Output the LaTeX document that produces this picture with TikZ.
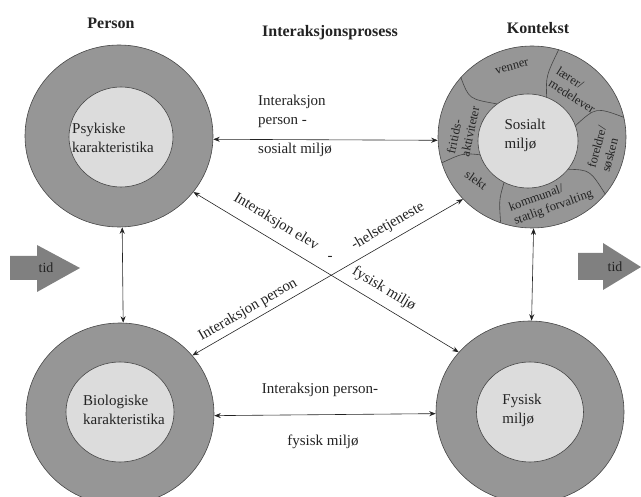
\documentclass[tikz,border=0pt]{standalone}
\usepackage{fontspec}
\setmainfont{Liberation Serif}
\usetikzlibrary{shapes.geometric,arrows.meta}
\definecolor{ringgray}{RGB}{150,150,150}
\definecolor{innergray}{RGB}{220,220,220}
\definecolor{edgegray}{RGB}{70,70,70}
\definecolor{arrowgray}{RGB}{128,128,128}
\definecolor{txt}{RGB}{35,35,35}
\begin{document}
\begin{tikzpicture}[x=1pt,y=-1pt,
  outer/.style={ellipse,draw=edgegray,fill=ringgray,line width=0.6pt,minimum width=188pt,minimum height=182pt,inner sep=0pt},
  inner/.style={ellipse,draw=edgegray,fill=innergray,line width=0.6pt,inner sep=0pt},
  lbl/.style={font=\fontsize{15}{19}\selectfont,text=txt,inner sep=0pt,align=left},
  ring/.style={font=\fontsize{12.5}{14.5}\selectfont,text=txt,inner sep=0pt,align=left},
  title/.style={font=\bfseries\fontsize{16}{19}\selectfont,text=txt,inner sep=0pt},
  arr/.style={draw=txt,line width=0.6pt,{Stealth[length=6.5pt,width=5pt]}-{Stealth[length=6.5pt,width=5pt]}},
  divl/.style={draw=edgegray,line width=0.6pt},
  tidarrow/.style={fill=arrowgray,draw=none},
  tidtext/.style={font=\fontsize{14}{16}\selectfont,text=txt,inner sep=0pt}]
\useasboundingbox (0,0) rectangle (641,497);
\clip (0,0) rectangle (641,497);

% circles
\node[outer] (ps) at (119,136) {};
\node[inner,minimum width=104pt,minimum height=100pt] (psi) at (121,137) {};
\node[outer] (bio) at (120,414) {};
\node[inner,minimum width=108pt,minimum height=100pt] (bioi) at (120,412) {};
\node[outer] (fy) at (530,412) {};
\node[inner,minimum width=107pt,minimum height=100pt] (fyi) at (530,412) {};
\node[outer] (so) at (532,137) {};
\node[inner,minimum width=100pt,minimum height=94pt] (si) at (528,141) {};

% ring dividers
\draw[divl] (so.140) .. controls (469,99) .. (si.130);
\draw[divl] (so.73) .. controls (546,76) .. (si.67);
\draw[divl] (si.18) .. controls (596,107) .. (so.12);
\draw[divl] (si.-35) .. controls (590,170) .. (so.-38);
\draw[divl] (si.240) .. controls (499,200) .. (so.250);
\draw[divl] (so.196) .. controls (463,153) .. (si.196);

% inner texts
\node[lbl] (pst) at (113,138) {Psykiske\\karakteristika};
\node[lbl] (biot) at (124,410) {Biologiske\\karakteristika};
\node[lbl] (fyt) at (522,410) {Fysisk\\miljø};
\node[lbl] (sot) at (525,135) {Sosialt\\miljø};

% ring texts
\node[ring,rotate=15] (r1) at (512,67) {venner};
\node[ring,rotate=-32] (r2) at (576,90) {lærer/\\medelever};
\node[ring,rotate=75] (r3) at (604,149) {foreldre/\\søsken};
\node[ring,rotate=20] (r4) at (551,201) {kommunal/\\statlig forvalting};
\node[ring,rotate=-35] (r5) at (476,180) {slekt};
\node[ring,rotate=78] (r6) at (463,130) {fritids-\\aktiviteter};

% titles
\node[title] (h1) at (111,23) {Person};
\node[title] (h2) at (330,33) {Interaksjonsprosess};
\node[title] (h3) at (538,28) {Kontekst};

% connectors
\draw[arr] (ps.-2) -- (so.182);
\draw[arr] (bio.-1) -- (fy.181);
\draw[arr] (ps.-88) -- (bio.88);
\draw[arr] (so.-89) -- (fy.89);
\draw[arr] (ps.-37) -- (fy.140);
\draw[arr] (bio.39) -- (so.222);

% connector labels
\node[lbl,anchor=west] (t1) at (258,111) {Interaksjon\\person -};
\node[lbl,anchor=west] (t2) at (258,150) {sosialt miljø};
\node[lbl] (b1) at (320,390) {Interaksjon person-};
\node[lbl] (b2) at (323,442) {fysisk miljø};
\node[lbl,rotate=-31] (d1) at (276,222) {Interaksjon elev};
\node[lbl] (d2) at (330,258) {-};
\node[lbl,rotate=30] (d3) at (388,226) {-helsetjeneste};
\node[lbl,rotate=-31] (d4) at (384,289) {fysisk miljø};
\node[lbl,rotate=30] (d5) at (248,310) {Interaksjon person};

% time arrows
\fill[tidarrow] (10,256) -- (37,256) -- (37,245) -- (80,268) -- (37,292) -- (37,280) -- (10,280) -- cycle;
\node[tidtext] (tidl) at (46,268) {tid};
\fill[tidarrow] (578,253) -- (603,253) -- (603,243) -- (641,267) -- (603,290) -- (603,280) -- (578,280) -- cycle;
\node[tidtext] (tidr) at (615,267) {tid};
\end{tikzpicture}
\end{document}
